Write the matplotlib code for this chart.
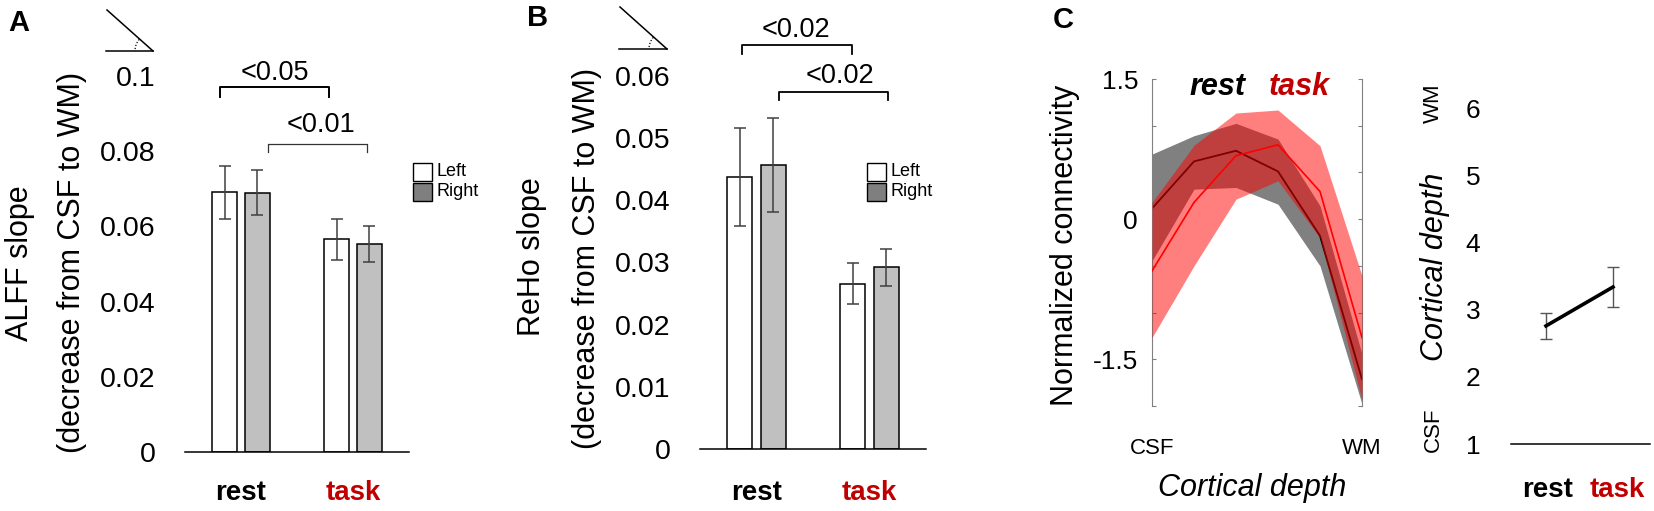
import numpy as np
import matplotlib
matplotlib.use("Agg")
import matplotlib.pyplot as plt
import matplotlib.transforms as mtransforms
from matplotlib.patches import Rectangle
from matplotlib.lines import Line2D

W, H = 1654, 511
TASK_RED = "#C00000"

plt.rcParams["font.family"] = ["Liberation Sans", "DejaVu Sans"]

# ---- data ----
groups = ["rest", "task"]

alff_left = [0.0691, 0.0566]
alff_left_err = [0.0070, 0.0055]
alff_right = [0.0689, 0.0553]
alff_right_err = [0.0060, 0.0048]

reho_left = [0.0437, 0.0266]
reho_left_err = [0.0079, 0.0033]
reho_right = [0.0457, 0.0292]
reho_right_err = [0.0076, 0.0030]

depth = [1, 2, 3, 4, 5, 6]
rest_conn = [0.114, 0.618, 0.732, 0.511, -0.179, -1.714]
rest_lo = [-0.446, 0.321, 0.339, 0.160, -0.500, -1.980]
rest_hi = [0.696, 0.893, 1.025, 0.857, 0.143, -1.446]
task_conn = [-0.554, 0.179, 0.679, 0.796, 0.296, -1.268]
task_lo = [-1.268, -0.500, 0.214, 0.410, -0.200, -1.930]
task_hi = [0.179, 0.790, 1.136, 1.168, 0.786, -0.607]

peak_depth = [2.76, 3.34]
peak_err = [0.20, 0.30]


def add_axes_px(left, top, right, bottom):
    return fig.add_axes([left / W, 1 - bottom / H, (right - left) / W, (bottom - top) / H])


def fx(x):
    return x / W


def fy(y):
    return 1 - y / H


def slope_icon(x0, x1, ytop, ybase):
    fig.add_artist(Line2D([fx(x0), fx(x1)], [fy(ytop), fy(ybase)], color="black", lw=1.1))
    fig.add_artist(Line2D([fx(x0 - 1), fx(x1)], [fy(ybase), fy(ybase)], color="black", lw=1.1))
    th = np.radians(np.linspace(140, 180, 8))
    fig.add_artist(Line2D(fx(x1 + 18 * np.cos(th)), fy(ybase - 18 * np.sin(th)),
                          color="black", lw=0.9, ls=(0, (1, 1.5))))


def legend_px(x, y):
    for i, (lab, col) in enumerate([("Left", "white"), ("Right", "#7F7F7F")]):
        yy = y + i * 20
        fig.add_artist(Rectangle((fx(x), fy(yy + 18)), 19 / W, 18 / H,
                                 facecolor=col, edgecolor="black", lw=1.0))
        fig.text(fx(x + 24), fy(yy + 9), lab, fontsize=13, ha="left", va="center")


def bar_panel(ax, left, right, lerr, rerr, ymax, ticks, ticklabels, brackets):
    x = np.arange(len(groups))
    w, off = 0.222, 0.147
    ax.bar(x - off, left, w, color="white", edgecolor="black", lw=1.1, zorder=2)
    ax.bar(x + off, right, w, color="#C0C0C0", edgecolor="black", lw=1.1, zorder=2)
    ax.errorbar(x - off, left, yerr=lerr, fmt="none", ecolor="#404040",
                elinewidth=1.1, capsize=4, capthick=1.1, zorder=3)
    ax.errorbar(x + off, right, yerr=rerr, fmt="none", ecolor="#404040",
                elinewidth=1.1, capsize=4, capthick=1.1, zorder=3)
    ax.set_xlim(-0.5, 1.5)
    ax.set_ylim(0, ymax)
    ax.set_yticks(ticks)
    ax.set_yticklabels(ticklabels)
    ax.set_xticks([])
    ax.tick_params(axis="y", length=0, pad=21, labelsize=20.5)
    for s in ["top", "right", "left"]:
        ax.spines[s].set_visible(False)
    ax.spines["bottom"].set_linewidth(1.1)
    for xa, xb, yb, yl, lw, col, txt, tx, ty in brackets:
        ax.plot([xa, xa, xb, xb], [yl, yb, yb, yl], color=col, lw=lw, clip_on=False)
        ax.text(tx, ty, txt, ha="center", va="center", fontsize=19.5, clip_on=False)
    tr = mtransforms.blended_transform_factory(ax.transData, fig.transFigure)
    for i, g in enumerate(groups):
        ax.text(i, fy(500), g, transform=tr, ha="center", va="baseline",
                fontsize=20, fontweight="bold", color="black" if g == "rest" else TASK_RED)


fig = plt.figure(figsize=(W / 100, H / 100), dpi=100)

# ---- panel A ----
axA = add_axes_px(185, 76, 409, 452)
bar_panel(axA, alff_left, alff_right, alff_left_err, alff_right_err, 0.1,
          [0, 0.02, 0.04, 0.06, 0.08, 0.1], ["0", "0.02", "0.04", "0.06", "0.08", "0.1"],
          [(-0.187, 0.782, 0.0970, 0.0944, 1.4, "black", "<0.05", 0.302, 0.1008),
           (0.240, 1.129, 0.0819, 0.0798, 0.9, "#333333", "<0.01", 0.717, 0.0870)])
fig.text(fx(20), fy(263), "ALFF slope", rotation=90, ha="center", va="center", fontsize=22)
fig.text(fx(72), fy(262), "(decrease from CSF to WM)", rotation=90, ha="center", va="center", fontsize=22)
fig.text(fx(8), fy(23), "A", fontsize=21, fontweight="bold", ha="left", va="center")
slope_icon(107, 153, 10, 51)
legend_px(413, 163)

# ---- panel B ----
axB = add_axes_px(700, 76, 926, 449)
bar_panel(axB, reho_left, reho_right, reho_left_err, reho_right_err, 0.06,
          [0, 0.01, 0.02, 0.03, 0.04, 0.05, 0.06],
          ["0", "0.01", "0.02", "0.03", "0.04", "0.05", "0.06"],
          [(-0.124, 0.844, 0.0650, 0.0636, 1.3, "black", "<0.02", 0.353, 0.0674),
           (0.196, 1.164, 0.0575, 0.0562, 1.3, "black", "<0.02", 0.738, 0.0600)])
fig.text(fx(532), fy(257), "ReHo slope", rotation=90, ha="center", va="center", fontsize=22)
fig.text(fx(587), fy(258), "(decrease from CSF to WM)", rotation=90, ha="center", va="center", fontsize=22)
fig.text(fx(527), fy(18), "B", fontsize=21, fontweight="bold", ha="left", va="center")
slope_icon(620, 667, 7, 49)
legend_px(867, 163)

# ---- panel C, connectivity profile ----
axC = add_axes_px(1152, 79, 1362, 406)
axC.fill_between(depth, rest_lo, rest_hi, color="#808080", lw=0, zorder=1)
axC.plot(depth, rest_conn, color="black", lw=1.3, zorder=2)
axC.fill_between(depth, task_lo, task_hi, color="red", alpha=0.5, lw=0, zorder=3)
axC.plot(depth, task_conn, color="#FF0000", lw=1.2, zorder=4)
axC.set_xlim(1, 6)
axC.set_ylim(-2, 1.5)
axC.set_yticks([-1.5, 0, 1.5])
axC.set_yticklabels(["-1.5", "0", "1.5"])
axC.set_yticks(np.arange(-2, 1.51, 0.5), minor=True)
axC.set_xticks([])
axC.tick_params(axis="y", which="both", direction="in", length=3, width=0.8,
                color="#808080", right=True, labelsize=19, pad=10)
for s in ["top", "bottom"]:
    axC.spines[s].set_visible(False)
for s in ["left", "right"]:
    axC.spines[s].set_color("#808080")
    axC.spines[s].set_linewidth(0.8)
trC = mtransforms.blended_transform_factory(axC.transData, fig.transFigure)
axC.text(1, fy(448), "CSF", transform=trC, ha="center", va="center", fontsize=16)
axC.text(6, fy(448), "WM", transform=trC, ha="center", va="center", fontsize=16)
fig.text(fx(1252), fy(488), "Cortical depth", style="italic", ha="center", va="center", fontsize=22)
fig.text(fx(1065), fy(245), "Normalized connectivity", rotation=90, ha="center", va="center", fontsize=22)
fig.text(fx(1217), fy(87), "rest", style="italic", fontweight="bold", ha="center", va="center", fontsize=22)
fig.text(fx(1299), fy(87), "task", style="italic", fontweight="bold", color=TASK_RED,
         ha="center", va="center", fontsize=22)
fig.text(fx(1053), fy(20), "C", fontsize=21, fontweight="bold", ha="left", va="center")

# ---- panel C, peak depth ----
axD = add_axes_px(1511, 75, 1650, 444)
axD.errorbar([1, 2], peak_depth, yerr=peak_err, color="black", lw=2.6,
             ecolor="#555555", elinewidth=1.0, capsize=4, capthick=1.0)
axD.set_xlim(0.478, 2.552)
axD.set_ylim(1, 6.5)
axD.set_yticks([1, 2, 3, 4, 5, 6])
axD.set_xticks([])
axD.tick_params(axis="y", length=0, pad=22, labelsize=19)
for s in ["top", "right", "left"]:
    axD.spines[s].set_visible(False)
axD.spines["bottom"].set_linewidth(1.1)
fig.text(fx(1435), fy(267), "Cortical depth", style="italic", rotation=90,
         ha="center", va="center", fontsize=22)
fig.text(fx(1433), fy(103), "WM", rotation=90, ha="center", va="center", fontsize=16)
fig.text(fx(1433), fy(430), "CSF", rotation=90, ha="center", va="center", fontsize=16)
fig.text(fx(1548), fy(497), "rest", fontweight="bold", ha="center", va="baseline", fontsize=20)
fig.text(fx(1617), fy(497), "task", fontweight="bold", color=TASK_RED, ha="center", va="baseline", fontsize=20)

fig.savefig("out.png", dpi=100)
